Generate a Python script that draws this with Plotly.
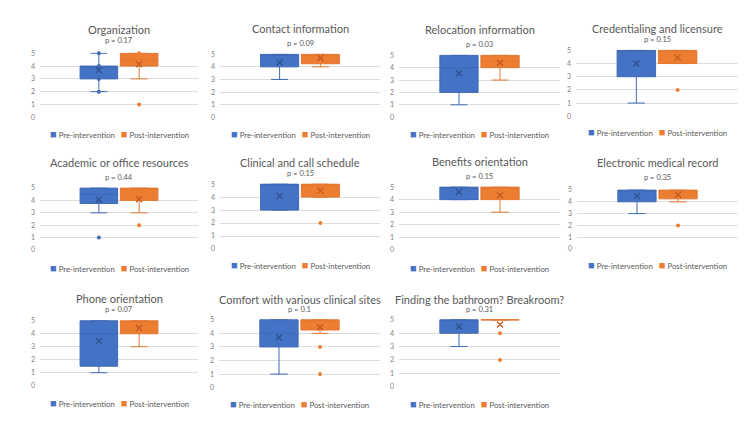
import plotly.graph_objects as go

# ---------------- data ----------------
titles = ["Organization", "Contact information", "Relocation information",
          "Credentialing and licensure", "Academic or office resources",
          "Clinical and call schedule", "Benefits orientation",
          "Electronic medical record", "Phone orientation",
          "Comfort with various clinical sites", "Finding the bathroom? Breakroom?"]
p_values = ["0.17", "0.09", "0.03", "0.15", "0.44", "0.15", "0.15", "0.35", "0.07", "0.1", "0.31"]
series_names = ["Pre-intervention", "Post-intervention"]
y_ticks = [0, 1, 2, 3, 4, 5]

pre_q1 = [3, 4, 2, 3, 3.75, 3, 4, 4, 1.5, 3, 4]
pre_median = [4, 5, 4, 5, 4.5, 5, 5, 5, 4, 4, 5]
pre_q3 = [4, 5, 5, 5, 5, 5, 5, 5, 5, 5, 5]
pre_lower = [2, 3, 1, 1, 3, 3, 4, 3, 1, 1, 3]
pre_upper = [5, 5, 5, 5, 5, 5, 5, 5, 5, 5, 5]
pre_mean = [3.7, 4.35, 3.55, 4.0, 4.05, 4.1, 4.6, 4.5, 3.45, 3.7, 4.5]
pre_outliers = [[], [], [], [], [1], [], [], [], [], [], []]
pre_inner = [[5, 4, 3, 2], [], [], [], [], [], [], [], [], [], []]

post_q1 = [4, 4.25, 4, 4, 4, 4, 4, 4.25, 4, 4.25, 5]
post_median = [4.5, 5, 4.5, 5, 5, 5, 5, 5, 5, 5, 5]
post_q3 = [5, 5, 5, 5, 5, 5, 5, 5, 5, 5, 5]
post_lower = [3, 4, 3, 4, 3, 4, 3, 4, 3, 4, 5]
post_upper = [5, 5, 5, 5, 5, 5, 5, 5, 5, 5, 5]
post_mean = [4.15, 4.7, 4.4, 4.45, 4.1, 4.5, 4.35, 4.6, 4.45, 4.45, 4.65]
post_outliers = [[1], [], [], [2], [2], [2], [], [2], [], [3, 1], [4, 2]]
post_inner = [[5], [], [], [], [], [], [], [], [], [], []]

# ---------------- layout (pixels) ----------------
W, H = 750, 422
plot_left = [32, 212, 391, 568, 32, 212, 391, 569, 32, 211, 391]
plot_right = [190, 372, 552, 730, 190, 372, 552, 730, 190, 372, 552]
y5_px = [42, 43, 44, 39, 179, 175, 178, 181, 314, 313, 313]
y0_px = [107, 107, 107, 106, 242, 241, 242, 241, 380, 382, 381]
title_px = [18, 17, 18, 17, 153, 153, 152, 153, 291, 292, 292]
pval_px = [29, 32, 33, 28, 168, 164, 167, 168, 303, 303, 303]
legend_px = [124, 124, 124, 122, 260, 257, 260, 257, 397, 398, 398]

BLUE, BLUE_LINE, BLUE_DARK = "#4472C4", "#4169B5", "#2F528F"
ORANGE, ORANGE_LINE, ORANGE_DARK = "#ED7D31", "#E37733", "#C05A1E"
TXT = "#595959"
FONT = "Lato"
POS = [-0.51, 0.51]
BOXW = 0.95
Y_LO, Y_HI = -0.03, 5.06

fig = go.Figure()
layout = {}
annotations = []

for i in range(len(titles)):
    n = i + 1
    xa = "x" if n == 1 else f"x{n}"
    ya = "y" if n == 1 else f"y{n}"
    groups = [
        (pre_q1, pre_median, pre_q3, pre_lower, pre_upper, pre_mean, pre_outliers, pre_inner,
         BLUE, BLUE_LINE, BLUE_DARK),
        (post_q1, post_median, post_q3, post_lower, post_upper, post_mean, post_outliers, post_inner,
         ORANGE, ORANGE_LINE, ORANGE_DARK),
    ]
    for k, (q1, med, q3, lo, hi, mn, outl, inner, fc, lc, dc) in enumerate(groups):
        fig.add_trace(go.Box(
            x=[POS[k]], q1=[q1[i]], median=[med[i]], q3=[q3[i]],
            lowerfence=[lo[i]], upperfence=[hi[i]],
            boxpoints=False, width=BOXW, whiskerwidth=0.45,
            fillcolor=fc, line=dict(color=lc, width=1),
            name=series_names[k], showlegend=False, hoverinfo="skip",
            xaxis=xa, yaxis=ya))
        pts = outl[i] + inner[i]
        if pts:
            fig.add_trace(go.Scatter(
                x=[POS[k]] * len(pts), y=pts, mode="markers",
                marker=dict(size=4, color=fc if k == 1 else lc),
                showlegend=False, hoverinfo="skip", cliponaxis=False,
                xaxis=xa, yaxis=ya))
        fig.add_trace(go.Scatter(
            x=[POS[k]], y=[mn[i]], mode="markers",
            marker=dict(symbol="x-thin", size=6, line=dict(width=1.3, color=dc)),
            showlegend=False, hoverinfo="skip", cliponaxis=False,
            xaxis=xa, yaxis=ya))

    unit = (y0_px[i] - y5_px[i]) / 5.0
    top_px = y5_px[i] - (Y_HI - 5) * unit
    bot_px = y0_px[i] - Y_LO * unit
    xd = [plot_left[i] / W, plot_right[i] / W]
    yd = [1 - bot_px / H, 1 - top_px / H]
    layout["xaxis" if n == 1 else f"xaxis{n}"] = dict(
        domain=xd, range=[-2, 2], showgrid=False, zeroline=False,
        showticklabels=False, showline=False, fixedrange=True,
        anchor=ya)
    layout["yaxis" if n == 1 else f"yaxis{n}"] = dict(
        domain=yd, range=[Y_LO, Y_HI], tickvals=y_ticks, showgrid=True,
        gridcolor="#DDDDDD", gridwidth=0.8, zeroline=False, showline=False,
        ticks="", tickfont=dict(family=FONT, size=7, color="#7F7F7F"),
        fixedrange=True, anchor=xa, ticklabelstandoff=4)

    cx = (plot_left[i] + plot_right[i]) / 2 / W
    annotations.append(dict(
        text=titles[i], x=cx, y=1 - title_px[i] / H, xref="paper", yref="paper",
        showarrow=False, xanchor="center", yanchor="middle",
        font=dict(family=FONT, size=11, color=TXT)))
    annotations.append(dict(
        text=f"p = {p_values[i]}", x=cx, y=1 - pval_px[i] / H, xref="paper", yref="paper",
        showarrow=False, xanchor="center", yanchor="middle",
        font=dict(family=FONT, size=7.5, color=TXT)))
    leg = (f"<span style='color:{BLUE};font-size:11px'>\u25A0</span>\u00a0{series_names[0]}"
           f"\u00a0\u00a0\u00a0<span style='color:{ORANGE};font-size:11px'>\u25A0</span>\u00a0{series_names[1]}")
    annotations.append(dict(
        text=leg, x=cx, y=1 - legend_px[i] / H, xref="paper", yref="paper",
        showarrow=False, xanchor="center", yanchor="middle",
        font=dict(family=FONT, size=7.8, color=TXT)))

fig.update_layout(
    width=W, height=H, margin=dict(l=0, r=0, t=0, b=0),
    paper_bgcolor="white", plot_bgcolor="white",
    boxmode="overlay", showlegend=False, annotations=annotations, **layout)

fig.write_html("out.html")
